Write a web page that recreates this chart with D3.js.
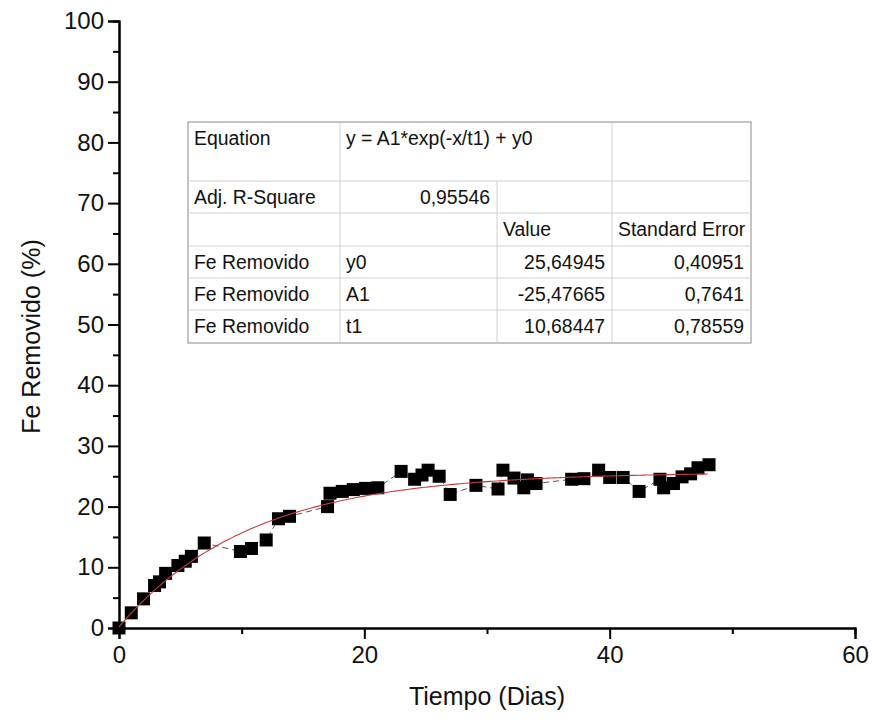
<!DOCTYPE html>
<html>
<head>
<meta charset="utf-8">
<script src="https://cdn.jsdelivr.net/npm/d3@7"></script>
<style>
  body { margin: 0; background: #fff; }
  svg { font-family: "Liberation Sans", Arial, sans-serif; }
</style>
</head>
<body>
<div id="chart"></div>
<script>
// datos
const dias = [0, 1.0, 2.0, 2.9, 3.3, 3.8, 4.8, 5.4, 5.9, 6.95, 9.9, 10.8, 12.0, 13.0, 13.9,
  17.0, 17.2, 18.2, 19.1, 20.1, 21.1, 23.0, 24.1, 24.7, 25.2, 26.1, 27.0, 29.1, 30.9, 31.3,
  32.2, 33.0, 33.3, 34.0, 36.9, 37.9, 39.1, 40.0, 41.1, 42.4, 44.1, 44.4, 45.2, 45.9, 46.6,
  47.2, 48.1];
const feRemovido = [0, 2.5, 4.8, 7.0, 7.6, 9.0, 10.3, 11.0, 11.8, 14.0, 12.6, 13.1, 14.5, 18.0, 18.4,
  20.0, 22.2, 22.5, 22.8, 23.0, 23.1, 25.8, 24.5, 25.2, 26.0, 25.0, 22.0, 23.5, 22.9, 26.0,
  24.7, 23.1, 24.4, 23.8, 24.5, 24.6, 26.0, 24.8, 24.8, 22.5, 24.5, 23.1, 23.8, 24.9, 25.4,
  26.4, 26.9];

// parametros del ajuste (tabla)
const y0 = 25.64945, A1 = -25.47665, t1 = 10.68447;

const xTicks = [0, 20, 40, 60];
const xMinor = [10, 30, 50];
const yTicks = [0, 10, 20, 30, 40, 50, 60, 70, 80, 90, 100];
const yMinor = [5, 15, 25, 35, 45, 55, 65, 75, 85, 95];

const tabla = [
  ["Equation", "y = A1*exp(-x/t1) + y0", "", ""],
  ["Adj. R-Square", "0,95546", "", ""],
  ["", "", "Value", "Standard Error"],
  ["Fe Removido", "y0", "25,64945", "0,40951"],
  ["Fe Removido", "A1", "-25,47665", "0,7641"],
  ["Fe Removido", "t1", "10,68447", "0,78559"]
];

const width = 874, height = 725;
const svg = d3.select("#chart").append("svg")
  .attr("width", width)
  .attr("height", height);

const x = d3.scaleLinear().domain([0, 60]).range([119, 855]);
const y = d3.scaleLinear().domain([0, 100]).range([628, 21]);

// ejes
const gx = svg.append("g").attr("transform", `translate(0,${y(0)})`)
  .call(d3.axisBottom(x).tickValues(xTicks).tickSize(11).tickPadding(5).tickFormat(d3.format("d")));
const gxm = svg.append("g").attr("transform", `translate(0,${y(0)})`)
  .call(d3.axisBottom(x).tickValues(xMinor).tickSize(6).tickFormat(""));
const gy = svg.append("g").attr("transform", `translate(${x(0)},0)`)
  .call(d3.axisLeft(y).tickValues(yTicks).tickSize(11).tickPadding(4).tickFormat(d3.format("d")));
const gym = svg.append("g").attr("transform", `translate(${x(0)},0)`)
  .call(d3.axisLeft(y).tickValues(yMinor).tickSize(6).tickFormat(""));

[gx, gxm, gy, gym].forEach(g => {
  g.select(".domain").attr("stroke", "#000").attr("stroke-width", 2);
  g.selectAll(".tick line").attr("stroke", "#000").attr("stroke-width", 2);
  g.selectAll(".tick text").attr("fill", "#111").style("font-size", "24px")
    .style("font-family", "Liberation Sans, Arial, sans-serif");
});
gx.selectAll(".tick text").attr("dy", "0.8em");

// linea punteada entre puntos
const datos = dias.map((d, i) => ({ d: d, v: feRemovido[i] }));
svg.append("path")
  .datum(datos)
  .attr("fill", "none")
  .attr("stroke", "#555")
  .attr("stroke-width", 1)
  .attr("stroke-dasharray", "6,4")
  .attr("d", d3.line().x(d => x(d.d)).y(d => y(d.v)));

// cuadrados
const lado = 13;
svg.selectAll("rect.pt")
  .data(datos)
  .enter()
  .append("rect")
  .attr("class", "pt")
  .attr("x", d => x(d.d) - lado / 2)
  .attr("y", d => y(d.v) - lado / 2)
  .attr("width", lado)
  .attr("height", lado)
  .attr("fill", "#000");

// curva de ajuste
const xs = d3.range(0, 48.1, 0.25);
svg.append("path")
  .datum(xs)
  .attr("fill", "none")
  .attr("stroke", "#c83c3c")
  .attr("stroke-width", 1.1)
  .attr("d", d3.line().x(t => x(t)).y(t => y(A1 * Math.exp(-t / t1) + y0)));

// tabla
const colX = [188, 340, 497, 612, 751];
const rowY = [122, 181, 213, 246, 278, 310, 343];
const tg = svg.append("g");
tg.append("rect")
  .attr("x", colX[0]).attr("y", rowY[0])
  .attr("width", colX[4] - colX[0]).attr("height", rowY[6] - rowY[0])
  .attr("fill", "#fff").attr("stroke", "#888").attr("stroke-width", 1);
rowY.slice(1, 6).forEach(ry => {
  tg.append("line").attr("x1", colX[0]).attr("x2", colX[4]).attr("y1", ry).attr("y2", ry)
    .attr("stroke", "#d0d0d0");
});
[1, 3].forEach(c => {
  tg.append("line").attr("x1", colX[c]).attr("x2", colX[c]).attr("y1", rowY[0]).attr("y2", rowY[6])
    .attr("stroke", "#d0d0d0");
});
tg.append("line").attr("x1", colX[2]).attr("x2", colX[2]).attr("y1", rowY[1]).attr("y2", rowY[6])
  .attr("stroke", "#d0d0d0");

const derecha = (r, c) => (r === 1 && c === 1) || (r >= 3 && c >= 2);
tabla.forEach((fila, r) => {
  fila.forEach((txt, c) => {
    if (!txt) return;
    const der = derecha(r, c);
    const cy = r === 0 ? rowY[0] + 16 : (rowY[r] + rowY[r + 1]) / 2;
    tg.append("text")
      .attr("x", der ? colX[c + 1] - 7 : colX[c] + 6)
      .attr("y", cy)
      .attr("dy", "0.36em")
      .attr("text-anchor", der ? "end" : "start")
      .style("font-size", "19.4px")
      .attr("fill", "#111")
      .text(txt);
  });
});

// etiquetas de ejes
svg.append("text")
  .attr("x", (x(0) + x(60)) / 2)
  .attr("y", 705)
  .attr("text-anchor", "middle")
  .style("font-size", "25px")
  .attr("fill", "#111")
  .text("Tiempo (Dias)");

svg.append("text")
  .attr("transform", `translate(40,${(y(0) + y(100)) / 2 + 12}) rotate(-90)`)
  .attr("text-anchor", "middle")
  .style("font-size", "25px")
  .attr("fill", "#111")
  .text("Fe Removido (%)");
</script>
</body>
</html>
